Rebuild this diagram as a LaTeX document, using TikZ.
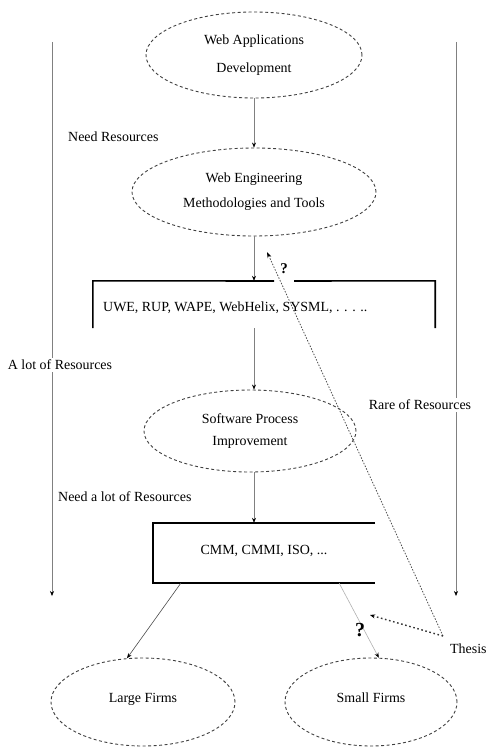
\documentclass[tikz,border=0pt]{standalone}
\usepackage{fontspec}
\setmainfont{Liberation Serif}
\usetikzlibrary{shapes.geometric,arrows.meta,calc}
\begin{document}
\begin{tikzpicture}[x=1bp,y=-1bp, font=\fontsize{14}{17}\selectfont,
 ell/.style={ellipse, draw=black!75, dash pattern=on 3bp off 2.5bp, line width=0.9bp, inner sep=0pt, align=center},
 gline/.style={draw=black!50, line width=0.6bp},
 garrow/.style={gline, -{Stealth[length=5bp,width=4bp,fill=black,black]}},
 darrow/.style={draw=black!70, line width=0.8bp, dash pattern=on 1.5bp off 1.5bp, -{Stealth[length=6bp,width=4bp,fill=black,black]}},
 dotarrow/.style={draw=black!80, line width=1.4bp, dash pattern=on 1.6bp off 2.6bp, -{Stealth[length=5bp,width=4bp,fill=black,black]}},
 boxedge/.style={draw=black, line width=1.6bp},
 lbl/.style={inner sep=2bp, fill=white},
 qmark/.style={font=\fontsize{15}{17}\selectfont\bfseries, inner sep=0pt}]
\useasboundingbox (0,0) rectangle (493,748);
\fill[white] (0,0) rectangle (493,748);

% side arrows
\coordinate (L0) at (52,42);
\coordinate (L1) at (52,596);
\coordinate (R0) at (456,42);
\coordinate (R1) at (456,596);
\draw[garrow] (L0) -- (L1);
\draw[garrow] (R0) -- (R1);
\node[lbl] (alot) at (60,365) {A lot of Resources};
\node[lbl] (rare) at (420,405) {Rare of Resources};

% ellipses
\node[ell, minimum width=216bp, minimum height=86bp] (wad) at (254,55) {Web Applications\\[11bp]Development};
\node[ell, minimum width=244bp, minimum height=88bp] (wem) at (254,192) {Web Engineering\\[8bp]Methodologies and Tools};
\node[ell, minimum width=212bp, minimum height=82bp] (spi) at (250,431) {Software Process\\[5bp]Improvement};
\node[ell, minimum width=184bp, minimum height=88bp] (large) at (143,702) {\raisebox{9bp}{Large Firms}};
\node[ell, minimum width=172bp, minimum height=88bp] (small) at (371,702) {\raisebox{9bp}{Small Firms}};

% labels
\node[anchor=west, inner sep=0pt] (needr) at (68,137) {Need Resources};
\node[anchor=west, inner sep=0pt] (needl) at (58,497) {Need a lot of Resources};

% box 1
\node[minimum width=342bp, minimum height=47bp, inner sep=0pt] (wbox) at (264,304.5) {};
\node[anchor=west, inner sep=0pt] (wtext) at (103,308) {UWE, RUP, WAPE, WebHelix, SYSML, . . . ..};
\draw[boxedge] (wbox.south west) -- (wbox.north west) -- (274,281);
\draw[boxedge] (294,281) -- (wbox.north east) -- (wbox.south east);

% box 2
\node[minimum width=222bp, minimum height=60bp, inner sep=0pt] (cbox) at (264,553) {\raisebox{6bp}{CMM, CMMI, ISO, ...}};
\draw[boxedge] (cbox.north east) -- (cbox.north west) -- (cbox.south west) -- (cbox.south east);

% vertical flow
\draw[garrow] (wad.south) -- (wem.north);
\draw[garrow] (wem.south) -- (wem.south |- wbox.north);
\draw[garrow] (wem.south |- wbox.south) -- (wem.south |- spi.north);
\draw[garrow] (wem.south |- spi.south) -- (wem.south |- cbox.north);

% to firms
\draw[garrow, draw=black!70] ($(cbox.south west)+(28,0)$) -- (large.110);
\draw[garrow, draw=black!30] ($(cbox.south east)+(-36,0)$) -- (small.80);

% question arrows
\node[anchor=west, inner sep=0pt] (thesis) at (450,649) {Thesis};
\coordinate (tj) at (443,636);
\coordinate (qtop) at (267,252);
\coordinate (qlow) at (370,615);
\draw[darrow] (tj) -- (qtop);
\node[qmark] (q1) at (284,269) {?};
\draw[dotarrow] (tj) -- (qlow);
\node[qmark, font=\fontsize{20}{22}\selectfont\bfseries] (q2) at (360,630) {?};
\end{tikzpicture}
\end{document}
